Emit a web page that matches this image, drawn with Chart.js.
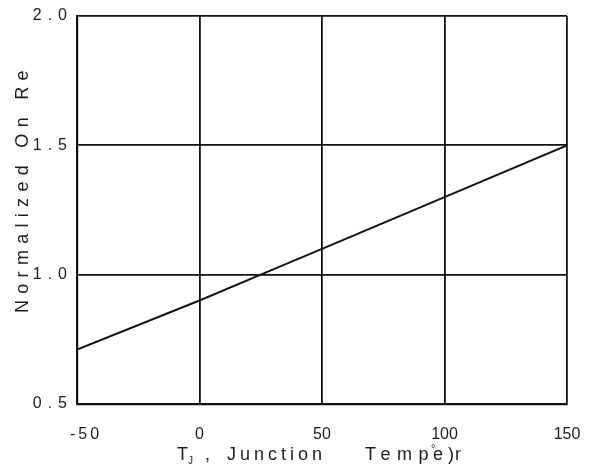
<!DOCTYPE html>
<html>
<head>
<meta charset="utf-8">
<script src="https://cdn.jsdelivr.net/npm/chart.js@4"></script>
<style>
html,body{margin:0;padding:0;background:#fff;}
#wrap{width:590px;height:468px;position:relative;}
</style>
</head>
<body>
<div id="wrap"><canvas id="c"></canvas></div>
<script>
const temps = [-50, 0, 25, 50, 100, 150];
const onRes = [0.71, 0.90, 1.00, 1.10, 1.30, 1.50];
const xTicks = [-50, 0, 50, 100, 150];
const yTicks = [0.5, 1.0, 1.5, 2.0];
const yTitle = "Normalized On Re";
const xTitleParts = ["T", "J", ",", "Junction", "Temp", "e", "r", "°", ")"];

const FONT = "'Liberation Sans', Arial, sans-serif";
const INK = "#111111";
const TEXT = "#1c1c1c";

const spacingPlugin = {
  id: 'spacing',
  afterLayout(chart) {
    const s = chart.scales.y;
    if (s && !s._spaced) {
      const orig = s.drawLabels;
      s.drawLabels = function (a) {
        const c = this.ctx; c.save(); c.letterSpacing = '6px'; orig.call(this, a); c.restore();
      };
      s._spaced = true;
    }
    const sx = chart.scales.x;
    if (sx && !sx._spaced) {
      const origX = sx.drawLabels;
      sx.drawLabels = function (a) {
        const items = this.getLabelItems(a);
        const c = this.ctx;
        const first = items.filter(it => it.label === String(xTicks[0]));
        const rest = items.filter(it => it.label !== String(xTicks[0]));
        first.forEach(it => { if (!it._shifted) { it.options.translation[0] += 9; it._shifted = true; } });
        c.save(); c.letterSpacing = '3px';
        this._labelItems = first; origX.call(this, a);
        c.restore();
        this._labelItems = rest; origX.call(this, a);
        this._labelItems = items;
      };
      sx._spaced = true;
    }
  },
  afterDraw(chart) {
    const ctx = chart.ctx;
    // Y title (clipped at the top like the reference)
    ctx.save();
    ctx.beginPath();
    ctx.rect(0, 69, 60, 400);
    ctx.clip();
    ctx.translate(28, 313);
    ctx.rotate(-Math.PI / 2);
    ctx.font = "18px " + FONT;
    ctx.letterSpacing = '6.3px';
    ctx.fillStyle = TEXT;
    ctx.textAlign = 'left';
    ctx.textBaseline = 'alphabetic';
    ctx.fillText(yTitle, 0, 0);
    ctx.restore();

    // X title
    ctx.save();
    ctx.fillStyle = TEXT;
    ctx.textBaseline = 'alphabetic';
    ctx.textAlign = 'left';
    const y = 460;
    const big = "18px " + FONT;
    ctx.font = big; ctx.letterSpacing = '0px';
    ctx.fillText(xTitleParts[0], 177, y);
    ctx.font = "10px " + FONT;
    ctx.fillText(xTitleParts[1], 188, y + 4);
    ctx.font = big;
    ctx.fillText(xTitleParts[2], 205, y);
    ctx.letterSpacing = '4px';
    ctx.fillText(xTitleParts[3], 227, y);
    ctx.letterSpacing = '6.5px';
    ctx.fillText(xTitleParts[4], 365, y);
    ctx.letterSpacing = '0px';
    ctx.fillText(xTitleParts[5], 433, y);
    ctx.fillText(xTitleParts[6], 455, y);
    ctx.font = "11px " + FONT;
    ctx.fillText(xTitleParts[7], 431, y - 8);
    ctx.font = big;
    ctx.fillText(xTitleParts[8], 448, y);
    ctx.restore();
  }
};

new Chart(document.getElementById('c'), {
  type: 'line',
  data: {
    datasets: [{
      data: temps.map((t, i) => ({ x: t, y: onRes[i] })),
      borderColor: INK,
      borderWidth: 2,
      pointRadius: 0,
      tension: 0,
      fill: false
    }]
  },
  options: {
    responsive: true,
    maintainAspectRatio: false,
    animation: false,
    devicePixelRatio: 1,
    layout: { padding: { left: 0, right: 23, top: 16, bottom: 0 } },
    plugins: { legend: { display: false }, tooltip: { enabled: false } },
    scales: {
      x: {
        type: 'linear',
        min: -50, max: 150,
        afterBuildTicks: (s) => { s.ticks = xTicks.map(v => ({ value: v })); },
        afterFit: (s) => { s.height = 64; s.paddingLeft = 0; s.paddingRight = 0; },
        grid: { color: INK, lineWidth: 1.8, drawTicks: false, tickLength: 0 },
        border: { display: true, color: INK, width: 2.2 },
        ticks: {
          color: TEXT, padding: 21, maxRotation: 0,
          font: { size: 16, family: FONT },
          callback: (v) => String(v)
        }
      },
      y: {
        type: 'linear',
        min: 0.5, max: 2.0,
        afterBuildTicks: (s) => { s.ticks = yTicks.map(v => ({ value: v })); },
        afterFit: (s) => { s.width = 77; s.paddingTop = 0; s.paddingBottom = 0; },
        grid: { color: INK, lineWidth: 1.8, drawTicks: false, tickLength: 0 },
        border: { display: true, color: INK, width: 2.2 },
        ticks: {
          color: TEXT, padding: 4,
          font: { size: 16, family: FONT },
          callback: (v) => Number(v).toFixed(1)
        }
      }
    }
  },
  plugins: [spacingPlugin]
});
</script>
</body>
</html>
